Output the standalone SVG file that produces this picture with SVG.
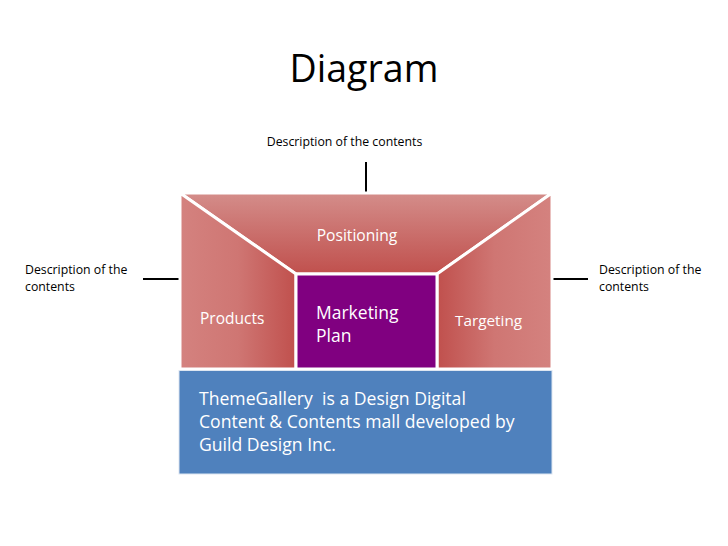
<svg xmlns="http://www.w3.org/2000/svg" width="728" height="546" viewBox="0 0 728 546">
<style>
text{font-family:"Open Sans","Liberation Sans",sans-serif}
.d{font-size:12.3px;fill:#000}
.w{fill:#fff}
.seg{stroke:#fff;stroke-width:3;stroke-linejoin:miter}
.con{stroke:#000;stroke-width:2;fill:none}
</style>
<defs>
<linearGradient id="gTop" x1="0" y1="0" x2="0" y2="1">
<stop offset="0" stop-color="#d48d8a"/><stop offset="1" stop-color="#c0504d"/>
</linearGradient>
<linearGradient id="gLeft" x1="0" y1="0" x2="1" y2="0">
<stop offset="0" stop-color="#d4827f"/><stop offset="0.5" stop-color="#cf7673"/><stop offset="1" stop-color="#c0504d"/>
</linearGradient>
<linearGradient id="gRight" x1="0" y1="0" x2="1" y2="0">
<stop offset="0" stop-color="#c0504d"/><stop offset="0.5" stop-color="#cf7673"/><stop offset="1" stop-color="#d4827f"/>
</linearGradient>
</defs>
<rect width="728" height="546" fill="#fff"/>
<text x="364" y="82" font-size="37.5" text-anchor="middle" fill="#000">Diagram</text>
<g id="connectors">
<line class="con" x1="366" y1="162" x2="366" y2="192"/>
<line class="con" x1="143" y1="279" x2="180" y2="279"/>
<line class="con" x1="552" y1="279" x2="588" y2="279"/>
</g>
<g id="desc-top"><text class="d" x="344.5" y="146" text-anchor="middle">Description of the contents</text></g>
<g id="desc-left"><text class="d" x="25" y="274">Description of the</text><text class="d" x="25" y="291">contents</text></g>
<g id="desc-right"><text class="d" x="599" y="274">Description of the</text><text class="d" x="599" y="291">contents</text></g>
<g id="positioning">
<polygon class="seg" points="180,193 552,193 437,274 296,274" fill="url(#gTop)"/>
<text class="w" x="357" y="241" font-size="15.6" text-anchor="middle">Positioning</text>
</g>
<g id="products">
<polygon class="seg" points="180,193 296,274 296,369 180,369" fill="url(#gLeft)"/>
<text class="w" x="200" y="324" font-size="15.5">Products</text>
</g>
<g id="targeting">
<polygon class="seg" points="552,193 552,369 437,369 437,274" fill="url(#gRight)"/>
<text class="w" x="455" y="326" font-size="15.3">Targeting</text>
</g>
<g id="marketing-plan">
<rect class="seg" x="296" y="274" width="141" height="95" fill="#800080"/>
<text class="w" x="316" y="319" font-size="17.5">Marketing</text>
<text class="w" x="316" y="342" font-size="17.5">Plan</text>
</g>
<g id="themegallery">
<rect x="179" y="370.5" width="373" height="103.5" fill="#4f81bd" stroke="#dde6f1" stroke-width="1"/>
<text class="w" x="199" y="405" font-size="17.6" xml:space="preserve" style="white-space:pre">ThemeGallery  is a Design Digital</text>
<text class="w" x="199" y="428" font-size="17.6">Content &amp; Contents mall developed by</text>
<text class="w" x="199" y="451" font-size="17.6">Guild Design Inc.</text>
</g>
</svg>
